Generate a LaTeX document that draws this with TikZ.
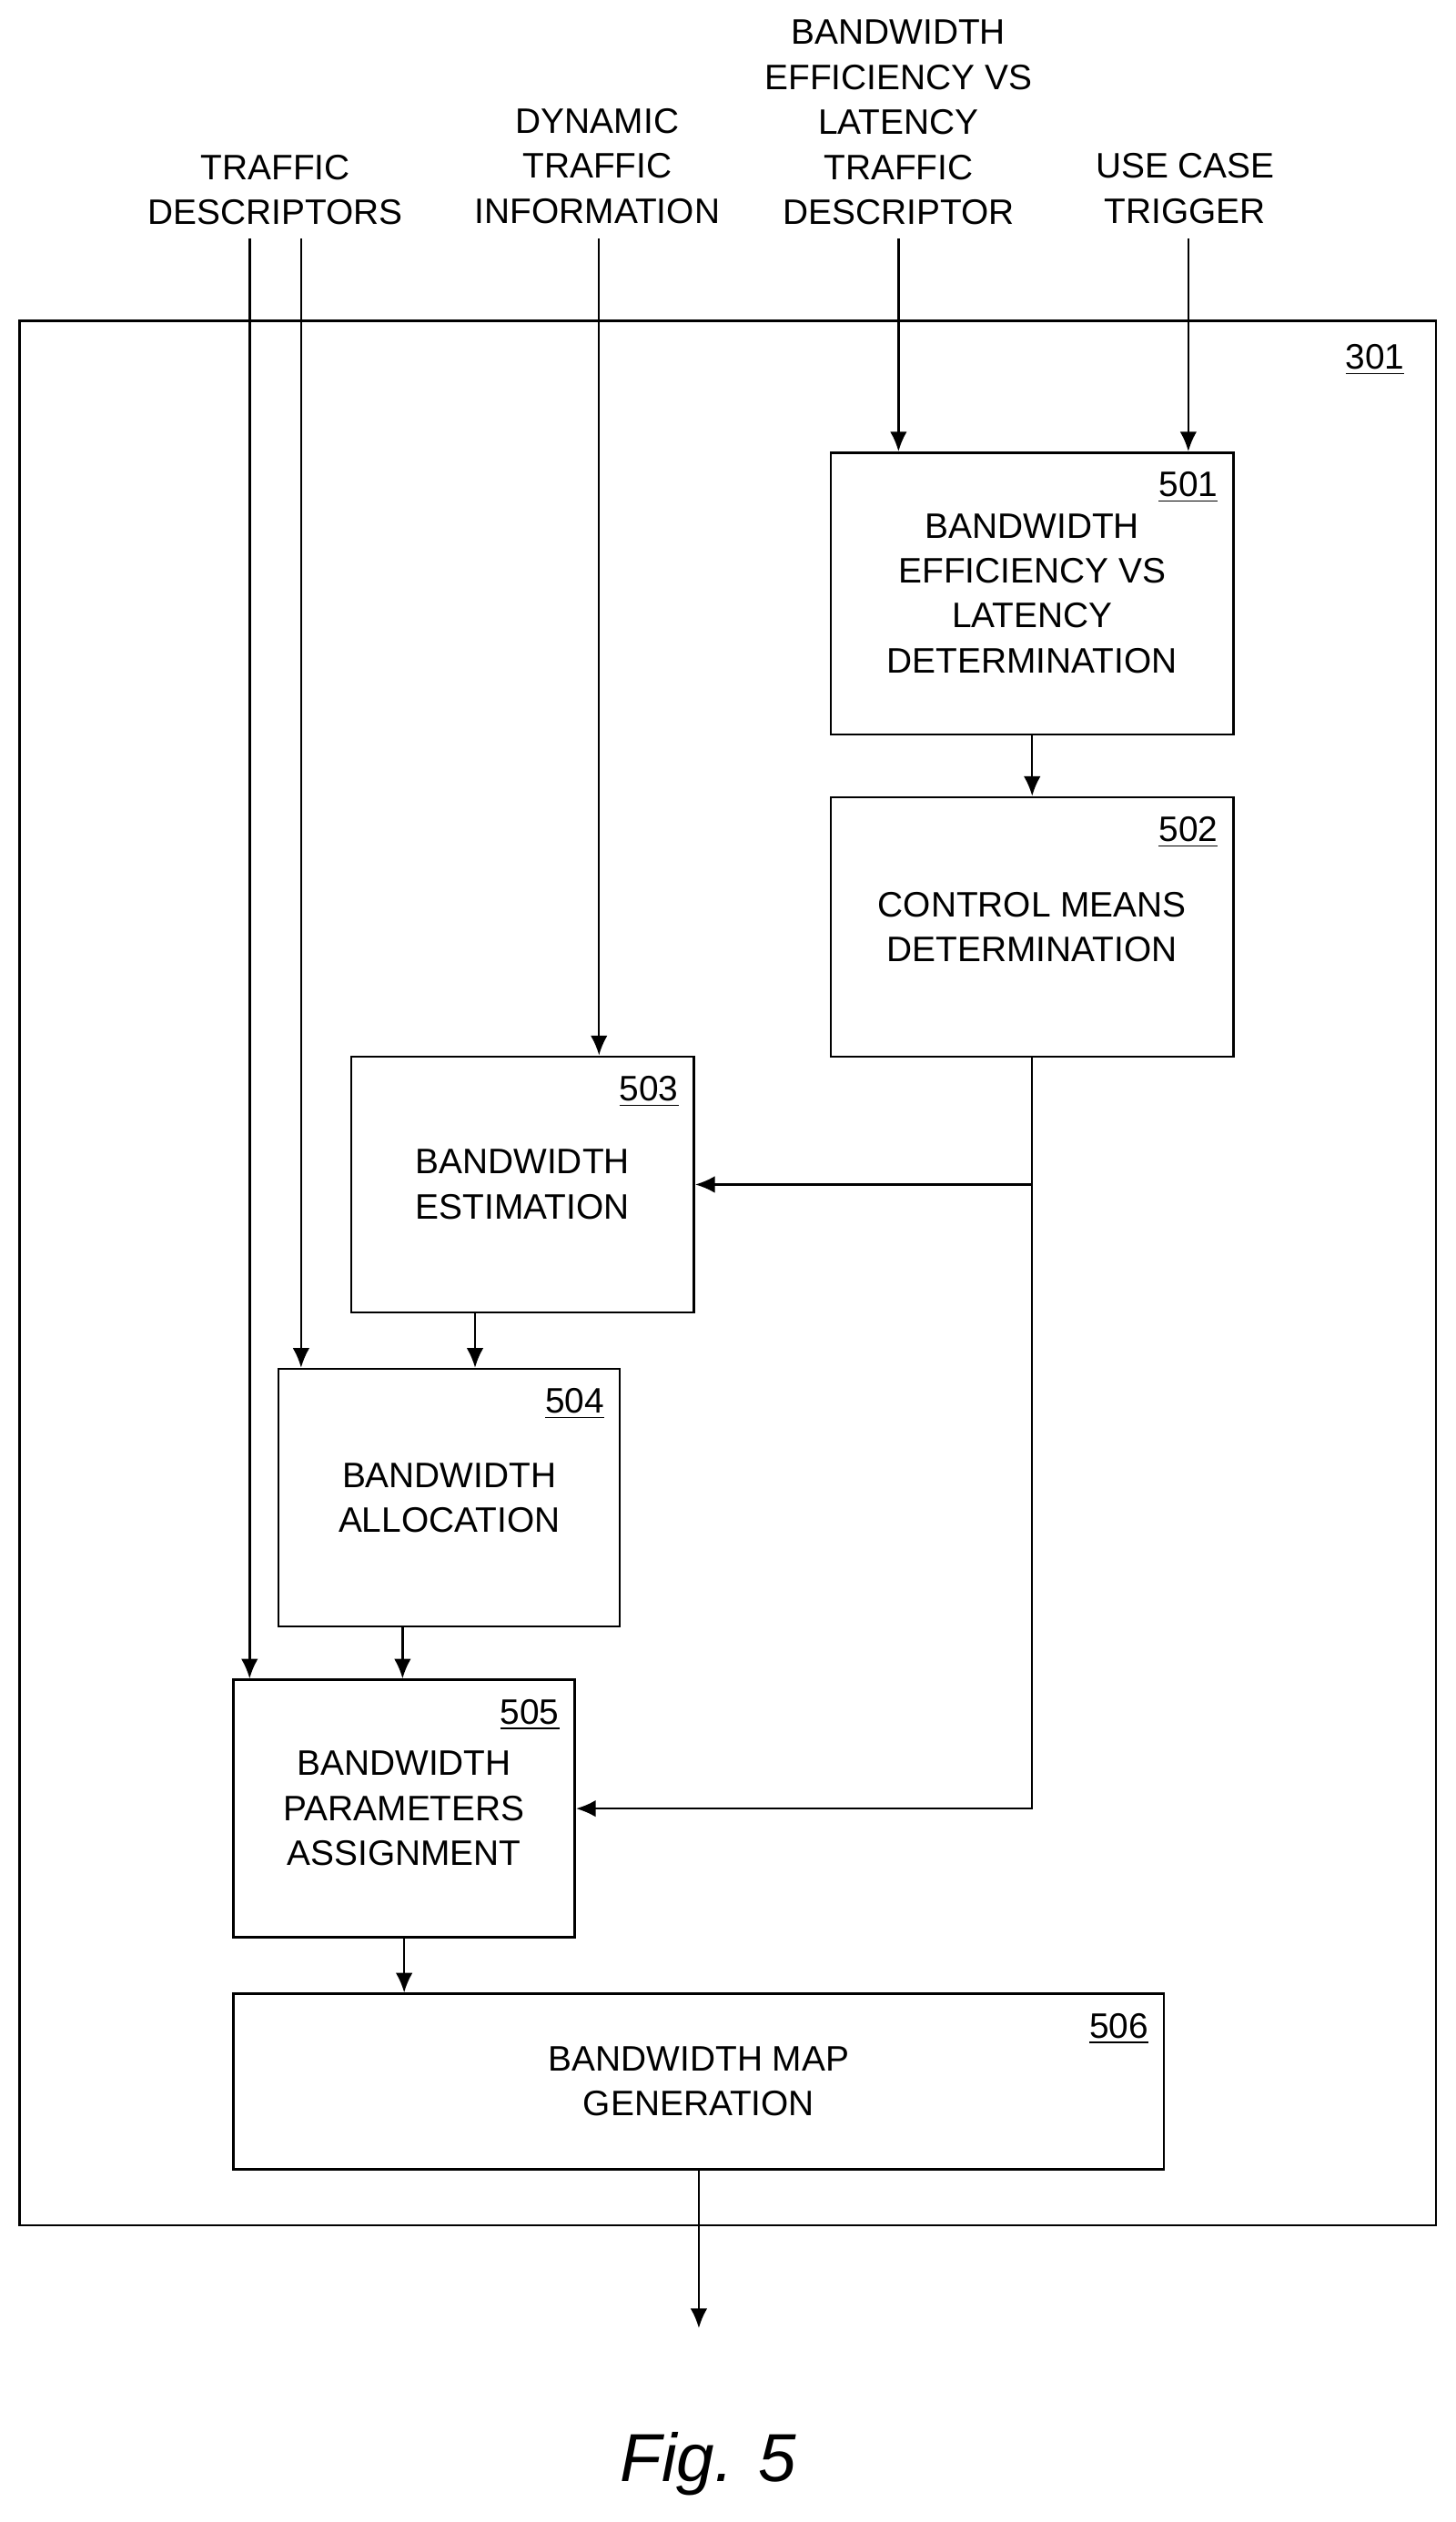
\documentclass[tikz,border=0pt]{standalone}
\usepackage{fontspec}
\setmainfont{Liberation Sans}
\usetikzlibrary{arrows.meta}
\tikzset{
  blk/.style={draw, line width=0.8pt, align=center, inner sep=0pt},
  arr/.style={line width=0.8pt, -{Latex[length=7pt,width=6pt]}},
  num/.style={anchor=north east, inner sep=0pt},
}
\begin{document}
\begin{tikzpicture}[x=0.02cm, y=-0.02cm, font=\fontsize{12.5}{15.9}\selectfont]
		\useasboundingbox (0,0) rectangle (904,1566);
		% outer unit
		\node[blk, minimum width=17.6cm, minimum height=23.66cm] (u301) at (452,790.5) {};
		\node[num] at ([xshift=-0.4cm,yshift=-0.3cm]u301.north east) {\underline{301}};

		% blocks
		\node[blk, minimum width=5cm, minimum height=3.5cm] (b501) at (641,368.5) {BANDWIDTH\\EFFICIENCY VS\\LATENCY\\DETERMINATION};
		\node[blk, minimum width=5cm, minimum height=3.22cm] (b502) at (641,575.5) {CONTROL MEANS\\DETERMINATION};
		\node[blk, minimum width=4.26cm, minimum height=3.18cm] (b503) at (324.5,735.5) {BANDWIDTH\\ESTIMATION};
		\node[blk, minimum width=4.24cm, minimum height=3.2cm] (b504) at (279,930) {BANDWIDTH\\ALLOCATION};
		\node[blk, minimum width=4.24cm, minimum height=3.2cm] (b505) at (251,1123) {BANDWIDTH\\PARAMETERS\\ASSIGNMENT};
		\node[blk, minimum width=11.56cm, minimum height=2.18cm] (b506) at (434,1292.5) {BANDWIDTH MAP\\GENERATION};
		\foreach \b in {501,502,503,504,505,506}
			\node[num] at ([xshift=-0.2cm,yshift=-0.25cm]b\b.north east) {\underline{\b}};

		% inputs
		\node[align=center] (td) at (171,118) {TRAFFIC\\DESCRIPTORS};
		\node[align=center] (dti) at (371,103) {DYNAMIC\\TRAFFIC\\INFORMATION};
		\node[align=center] (bel) at (558,76) {BANDWIDTH\\EFFICIENCY VS\\LATENCY\\TRAFFIC\\DESCRIPTOR};
		\node[align=center] (uct) at (736,117) {USE CASE\\TRIGGER};
		\coordinate (td1) at (155,148);
		\coordinate (td2) at (187,148);
		\coordinate (dt) at (372,148);
		\coordinate (be) at (558,148);
		\coordinate (uc) at (738,148);
		\draw[arr] (td1) -- (td1 |- b505.north);
		\draw[arr] (td2) -- (td2 |- b504.north);
		\draw[arr] (dt) -- (dt |- b503.north);
		\draw[arr] (be) -- (be |- b501.north);
		\draw[arr] (uc) -- (uc |- b501.north);

		% flow
		\draw[arr] (b501) -- (b502);
		\draw[arr] (b502.south) |- (b503.east);
		\draw[arr] (b502.south) |- (b505.east);
		\draw[arr] ([xshift=-0.59cm]b503.south) -- ([xshift=-0.59cm]b503.south |- b504.north);
		\draw[arr] ([xshift=-0.58cm]b504.south) -- ([xshift=-0.58cm]b504.south |- b505.north);
		\draw[arr] (b505.south) -- (b505.south |- b506.north);
		\coordinate (out) at ([yshift=-1.96cm]b506.south);
		\draw[arr] (b506.south) -- (out);

		\node[font=\fontsize{24}{28}\selectfont\itshape] (fig) at (440,1530) {Fig. 5};
	\end{tikzpicture}
\end{document}
